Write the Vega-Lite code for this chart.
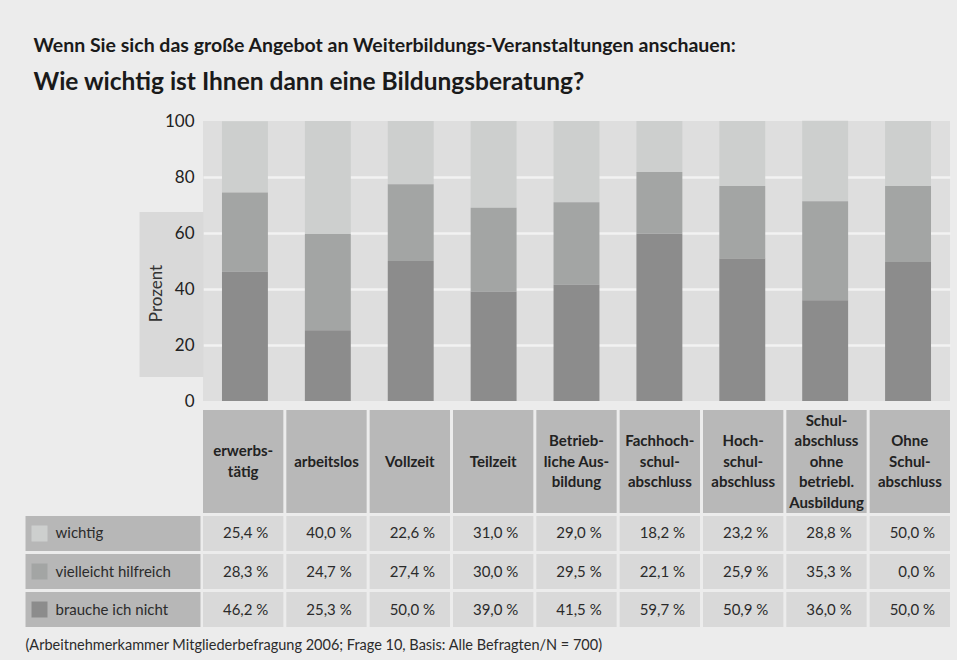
{
  "$schema": "https://vega.github.io/schema/vega-lite/v6.json",
  "background": "#ececec",
  "padding": {"left": 7, "top": 36, "right": 7, "bottom": 9},
  "title": {
    "text": "Wenn Sie sich das große Angebot an Weiterbildungs-Veranstaltungen anschauen:",
    "subtitle": "Wie wichtig ist Ihnen dann eine Bildungsberatung?",
    "anchor": "start",
    "frame": "bounds",
    "dx": 26,
    "fontSize": 19.5,
    "fontWeight": "bold",
    "color": "#1a1a1a",
    "subtitleFontSize": 24.5,
    "subtitleFontWeight": "bold",
    "subtitleColor": "#1a1a1a",
    "subtitlePadding": 14,
    "offset": 17
  },
  "datasets": {
    "answers": [
      {"cat": "erwerbs-\ntätig", "series": "wichtig", "bar": 25.4, "pct": 25.4},
      {"cat": "erwerbs-\ntätig", "series": "vielleicht hilfreich", "bar": 28.3, "pct": 28.3},
      {"cat": "erwerbs-\ntätig", "series": "brauche ich nicht", "bar": 46.2, "pct": 46.2},
      {"cat": "arbeitslos", "series": "wichtig", "bar": 40.4, "pct": 40.0},
      {"cat": "arbeitslos", "series": "vielleicht hilfreich", "bar": 34.3, "pct": 24.7},
      {"cat": "arbeitslos", "series": "brauche ich nicht", "bar": 25.3, "pct": 25.3},
      {"cat": "Vollzeit", "series": "wichtig", "bar": 22.6, "pct": 22.6},
      {"cat": "Vollzeit", "series": "vielleicht hilfreich", "bar": 27.4, "pct": 27.4},
      {"cat": "Vollzeit", "series": "brauche ich nicht", "bar": 50.0, "pct": 50.0},
      {"cat": "Teilzeit", "series": "wichtig", "bar": 31.0, "pct": 31.0},
      {"cat": "Teilzeit", "series": "vielleicht hilfreich", "bar": 30.0, "pct": 30.0},
      {"cat": "Teilzeit", "series": "brauche ich nicht", "bar": 39.0, "pct": 39.0},
      {"cat": "Betrieb-\nliche Aus-\nbildung", "series": "wichtig", "bar": 29.0, "pct": 29.0},
      {"cat": "Betrieb-\nliche Aus-\nbildung", "series": "vielleicht hilfreich", "bar": 29.5, "pct": 29.5},
      {"cat": "Betrieb-\nliche Aus-\nbildung", "series": "brauche ich nicht", "bar": 41.5, "pct": 41.5},
      {"cat": "Fachhoch-\nschul-\nabschluss", "series": "wichtig", "bar": 18.2, "pct": 18.2},
      {"cat": "Fachhoch-\nschul-\nabschluss", "series": "vielleicht hilfreich", "bar": 22.1, "pct": 22.1},
      {"cat": "Fachhoch-\nschul-\nabschluss", "series": "brauche ich nicht", "bar": 59.7, "pct": 59.7},
      {"cat": "Hoch-\nschul-\nabschluss", "series": "wichtig", "bar": 23.2, "pct": 23.2},
      {"cat": "Hoch-\nschul-\nabschluss", "series": "vielleicht hilfreich", "bar": 25.9, "pct": 25.9},
      {"cat": "Hoch-\nschul-\nabschluss", "series": "brauche ich nicht", "bar": 50.9, "pct": 50.9},
      {"cat": "Schul-\nabschluss\nohne\nbetriebl.\nAusbildung", "series": "wichtig", "bar": 28.8, "pct": 28.8},
      {"cat": "Schul-\nabschluss\nohne\nbetriebl.\nAusbildung", "series": "vielleicht hilfreich", "bar": 35.3, "pct": 35.3},
      {"cat": "Schul-\nabschluss\nohne\nbetriebl.\nAusbildung", "series": "brauche ich nicht", "bar": 36.0, "pct": 36.0},
      {"cat": "Ohne\nSchul-\nabschluss", "series": "wichtig", "bar": 23.2, "pct": 50.0},
      {"cat": "Ohne\nSchul-\nabschluss", "series": "vielleicht hilfreich", "bar": 27.2, "pct": 0.0},
      {"cat": "Ohne\nSchul-\nabschluss", "series": "brauche ich nicht", "bar": 49.6, "pct": 50.0}
    ]
  },
  "spacing": 9,
  "bounds": "flush",
  "resolve": {"scale": {"x": "independent", "y": "independent", "color": "independent"}},
  "vconcat": [
    {
      "width": 747,
      "height": 280,
      "view": {"fill": "#dedede", "stroke": null},
      "data": {"name": "answers"},
      "mark": {"type": "bar"},
      "encoding": {
        "x": {"field": "cat", "type": "nominal", "sort": null, "scale": {"paddingInner": 0.446, "paddingOuter": 0.229}, "axis": null},
        "y": {
          "field": "bar", "type": "quantitative", "stack": "zero",
          "scale": {"domain": [0, 100], "nice": false},
          "axis": {
            "values": [0, 20, 38.3, 40, 60, 80, 100],
            "domain": false,
            "grid": true,
            "gridColor": "#f2f2f2",
            "gridWidth": 2.5,
            "gridOpacity": {"condition": {"test": "datum.value > 10 && datum.value < 90 && datum.value != 38.3", "value": 1}, "value": 0},
            "ticks": true,
            "tickSize": 64,
            "tickColor": "#d9d9d9",
            "tickWidth": {"condition": {"test": "datum.value == 38.3", "value": 165}, "value": 0},
            "tickOpacity": {"condition": {"test": "datum.value == 38.3", "value": 1}, "value": 0},
            "labelOverlap": false,
            "labelPadding": -55,
            "labelFontSize": 17,
            "labelColor": "#222222",
            "labelOpacity": {"condition": {"test": "datum.value == 38.3", "value": 0}, "value": 1},
            "title": "Prozent",
            "titleFontSize": 17,
            "titleFontWeight": "normal",
            "titleColor": "#333333",
            "titleAngle": 270,
            "titleX": -47,
            "titleY": 172,
            "titleAlign": "center",
            "titleBaseline": "middle"
          }
        },
        "color": {
          "field": "series", "type": "nominal",
          "scale": {"domain": ["wichtig", "vielleicht hilfreich", "brauche ich nicht"], "range": ["#cdcfce", "#a3a5a4", "#8c8c8c"]},
          "legend": null
        },
        "order": {"field": "series", "sort": "ascending"}
      }
    },
    {
      "spacing": 3,
      "bounds": "flush",
      "resolve": {"scale": {"x": "independent", "y": "independent"}},
      "vconcat": [
        {
          "width": 747,
          "height": 103,
          "view": {"stroke": null},
          "data": {"name": "answers"},
          "transform": [{"filter": "datum.series === 'wichtig'"}],
          "encoding": {
            "x": {"field": "cat", "type": "nominal", "sort": null, "scale": {"paddingInner": 0.036, "paddingOuter": 0}, "axis": null}
          },
          "layer": [
            {"mark": {"type": "rect", "color": "#b8b8b8"}},
            {
              "mark": {
                "type": "text", "fontSize": 15, "fontWeight": "bold", "color": "#222222",
                "lineBreak": "\n", "lineHeight": 20.5,
                "dy": {"expr": "-10.25 * (length(split(datum.cat, '\\n')) - 1)"}
              },
              "encoding": {"text": {"field": "cat", "type": "nominal"}}
            }
          ]
        },
        {
          "width": 747,
          "height": 111,
          "view": {"stroke": null},
          "data": {"name": "answers"},
          "layer": [
            {
              "mark": {"type": "rect", "color": "#d9d9d9"},
              "encoding": {
                "x": {
                  "field": "cat", "type": "nominal", "sort": null,
                  "scale": {"paddingInner": 0.036, "paddingOuter": 0},
                  "axis": {
                    "orient": "bottom",
                    "labels": false, "ticks": false, "domain": false, "grid": false,
                    "title": "(Arbeitnehmerkammer Mitgliederbefragung 2006; Frage 10, Basis: Alle Befragten/N = 700)",
                    "titleFontSize": 14.5,
                    "titleFontWeight": "normal",
                    "titleColor": "#2b2b2b",
                    "titleX": -178,
                    "titleY": 18,
                    "titleAlign": "left",
                    "titleBaseline": "middle"
                  }
                },
                "y": {
                  "field": "series", "type": "nominal",
                  "sort": ["wichtig", "vielleicht hilfreich", "brauche ich nicht"],
                  "scale": {"paddingInner": 0.08, "paddingOuter": 0},
                  "axis": {
                    "orient": "left", "offset": 3, "domain": false, "grid": false, "ticks": true,
                    "tickSize": 175, "tickWidth": 35, "tickColor": "#b7b7b7", "bandPosition": 0.5,
                    "labels": true, "labelAlign": "left", "labelBaseline": "middle", "labelPadding": -30,
                    "labelFontSize": 15, "labelColor": "#2b2b2b", "labelLimit": 200,
                    "title": null, "zindex": 0
                  }
                }
              }
            },
            {
              "mark": {"type": "text", "align": "right", "dx": -15, "fontSize": 15, "color": "#2b2b2b"},
              "encoding": {
                "x": {"field": "cat", "type": "nominal", "sort": null, "bandPosition": 1},
                "y": {
                  "field": "series", "type": "nominal",
                  "sort": ["wichtig", "vielleicht hilfreich", "brauche ich nicht"],
                  "axis": {
                    "orient": "left", "offset": 156, "domain": false, "grid": false, "labels": false, "ticks": true,
                    "tickSize": 16, "tickWidth": 16, "bandPosition": 0.5,
                    "tickColor": {"condition": [{"test": "datum.value === 'wichtig'", "value": "#cdcfce"}, {"test": "datum.value === 'vielleicht hilfreich'", "value": "#a3a5a4"}], "value": "#8c8c8c"},
                    "title": null, "zindex": 1
                  }
                },
                "text": {"field": "pct", "type": "quantitative", "format": "$.1f"}
              }
            }
          ],
          "resolve": {"axis": {"y": "independent"}}
        }
      ]
    }
  ],
  "config": {
    "font": "Lato",
    "view": {"stroke": null},
    "locale": {"number": {"decimal": ",", "thousands": ".", "grouping": [3], "currency": ["", " %"]}}
  }
}
